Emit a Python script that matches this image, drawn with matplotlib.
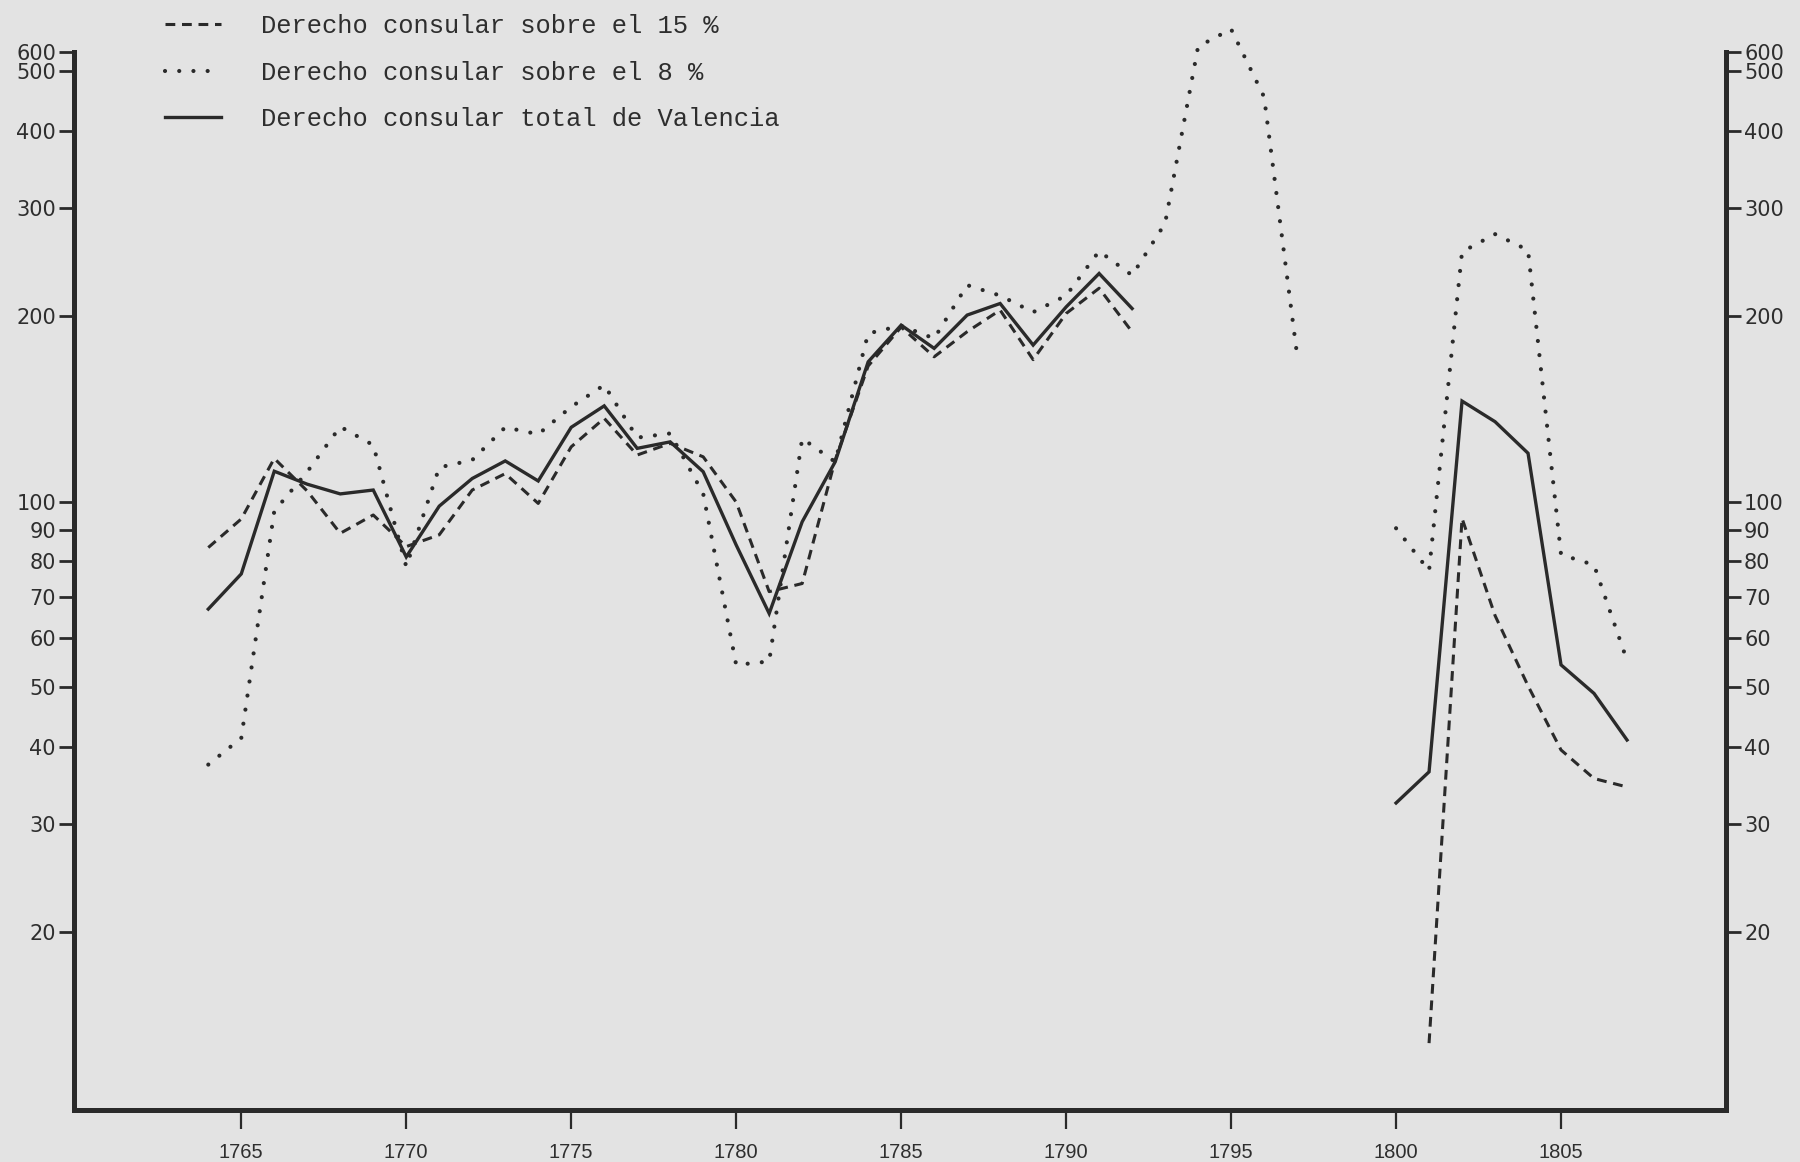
import numpy as np
import matplotlib
matplotlib.use("Agg")
import matplotlib.pyplot as plt
from matplotlib.ticker import FixedLocator, FixedFormatter, NullLocator

# ---------------- data ----------------
years_a = list(range(1764, 1793))
total_a = [66.9, 76.3, 112, 106.7, 102.9, 104.4, 81.3, 98.3, 109, 116.4,
           108, 132, 143, 122, 125, 111.8, 85, 65.8, 92.7, 116,
           168.6, 193.4, 177.3, 200.8, 209.7, 179.5, 207, 234.6, 205.8]
d15_a = [84.2, 93.7, 117.5, 104, 88.8, 95.1, 84.5, 88.3, 104.4, 111,
         99.3, 122.7, 136.5, 119, 124.3, 118.2, 99.8, 71.4, 73.6, 116.8,
         166, 192, 171.8, 188.7, 204.6, 170, 202, 222, 188.6]
years_8a = list(range(1764, 1798))
d8_a = [37.4, 41.3, 96.5, 111.8, 132.3, 123.5, 78.4, 113.6, 116.8, 132,
        128.6, 142.5, 154.6, 127, 129, 103, 54.3, 55, 126.6, 116,
        187.5, 193, 184, 224.6, 216, 203, 216, 255, 233, 283,
        548, 585, 454, 173]

years_b = list(range(1800, 1808))
total_b = [32.4, 36.4, 145.6, 134.8, 119.8, 54.3, 48.8, 41.0]
d15_b = [np.nan, 13.2, 93.9, 65.3, 50.2, 39.5, 35.5, 34.4]
d8_b = [90.5, 77.2, 254.4, 271.8, 256, 82, 78.9, 55.2]

labels = ["Derecho consular sobre el 15 %",
          "Derecho consular sobre el 8 %",
          "Derecho consular total de Valencia"]

x_ticks = [1765, 1770, 1775, 1780, 1785, 1790, 1795, 1800, 1805]
y_top = 537
y_ticks = [20, 30, 40, 50, 60, 70, 80, 90, 100, 200, 300, 400, 500, y_top]
y_ticklabels = ["20", "30", "40", "50", "60", "70", "80", "90", "100",
                "200", "300", "400", "500", "600"]

# ---------------- styling ----------------
bg = "#e3e3e3"
ink = "#2a2a2a"

fig = plt.figure(figsize=(18, 11.62), dpi=100, facecolor=bg)
ax = fig.add_axes([74 / 1800, 1 - 1110 / 1162, (1726 - 74) / 1800, (1110 - 52) / 1162])
ax.set_facecolor(bg)

dash_style = (0, (3.2, 2.2))
dot_style = (0, (0.01, 3.4))

l15, = ax.plot(years_a, d15_a, color=ink, lw=2.2, linestyle=dash_style,
               dash_capstyle="butt")
ax.plot(years_b, d15_b, color=ink, lw=2.2, linestyle=dash_style, dash_capstyle="butt")
l8, = ax.plot(years_8a, d8_a, color=ink, lw=3.0, linestyle=dot_style,
              dash_capstyle="round", clip_on=False)
ax.plot(years_b, d8_b, color=ink, lw=3.0, linestyle=dot_style, dash_capstyle="round")
lt, = ax.plot(years_a, total_a, color=ink, lw=2.4, solid_joinstyle="miter")
ax.plot(years_b, total_b, color=ink, lw=2.4, solid_joinstyle="miter")

ax.set_yscale("log")
ax.set_ylim(10.28, y_top)
ax.set_xlim(1759.93, 1810)

ax.yaxis.set_major_locator(FixedLocator(y_ticks))
ax.yaxis.set_major_formatter(FixedFormatter(y_ticklabels))
ax.yaxis.set_minor_locator(NullLocator())
ax.set_xticks(x_ticks)
ax.set_xticklabels([str(x) for x in x_ticks])
ax.xaxis.set_minor_locator(NullLocator())

for s in ["left", "right", "bottom"]:
    ax.spines[s].set_linewidth(3.6)
    ax.spines[s].set_color(ink)
ax.spines["top"].set_visible(False)

ax.tick_params(axis="y", which="major", left=True, right=True, labelleft=True,
               labelright=True, direction="out", length=11, width=2.0,
               color=ink, pad=2, labelsize=15, labelcolor="#2e2e2e")
ax.tick_params(axis="x", which="major", bottom=True, direction="out", length=14,
               width=1.6, color=ink, pad=10, labelsize=14.5, labelcolor="#2e2e2e")
for t in ax.get_xticklabels():
    t.set_fontfamily("Liberation Sans")
for t in ax.get_yticklabels():
    t.set_fontfamily("DejaVu Sans")

leg = ax.legend([l15, l8, lt], labels, loc="upper left",
                bbox_to_anchor=(155 / 1800, 1 - 4 / 1162),
                bbox_transform=fig.transFigure,
                frameon=False, handlelength=2.2, handletextpad=1.55,
                labelspacing=0.88, borderaxespad=0,
                prop={"family": "Liberation Mono", "size": 18.4})
for t in leg.get_texts():
    t.set_color("#2e2e2e")

fig.savefig("out.png", dpi=100, facecolor=bg)
